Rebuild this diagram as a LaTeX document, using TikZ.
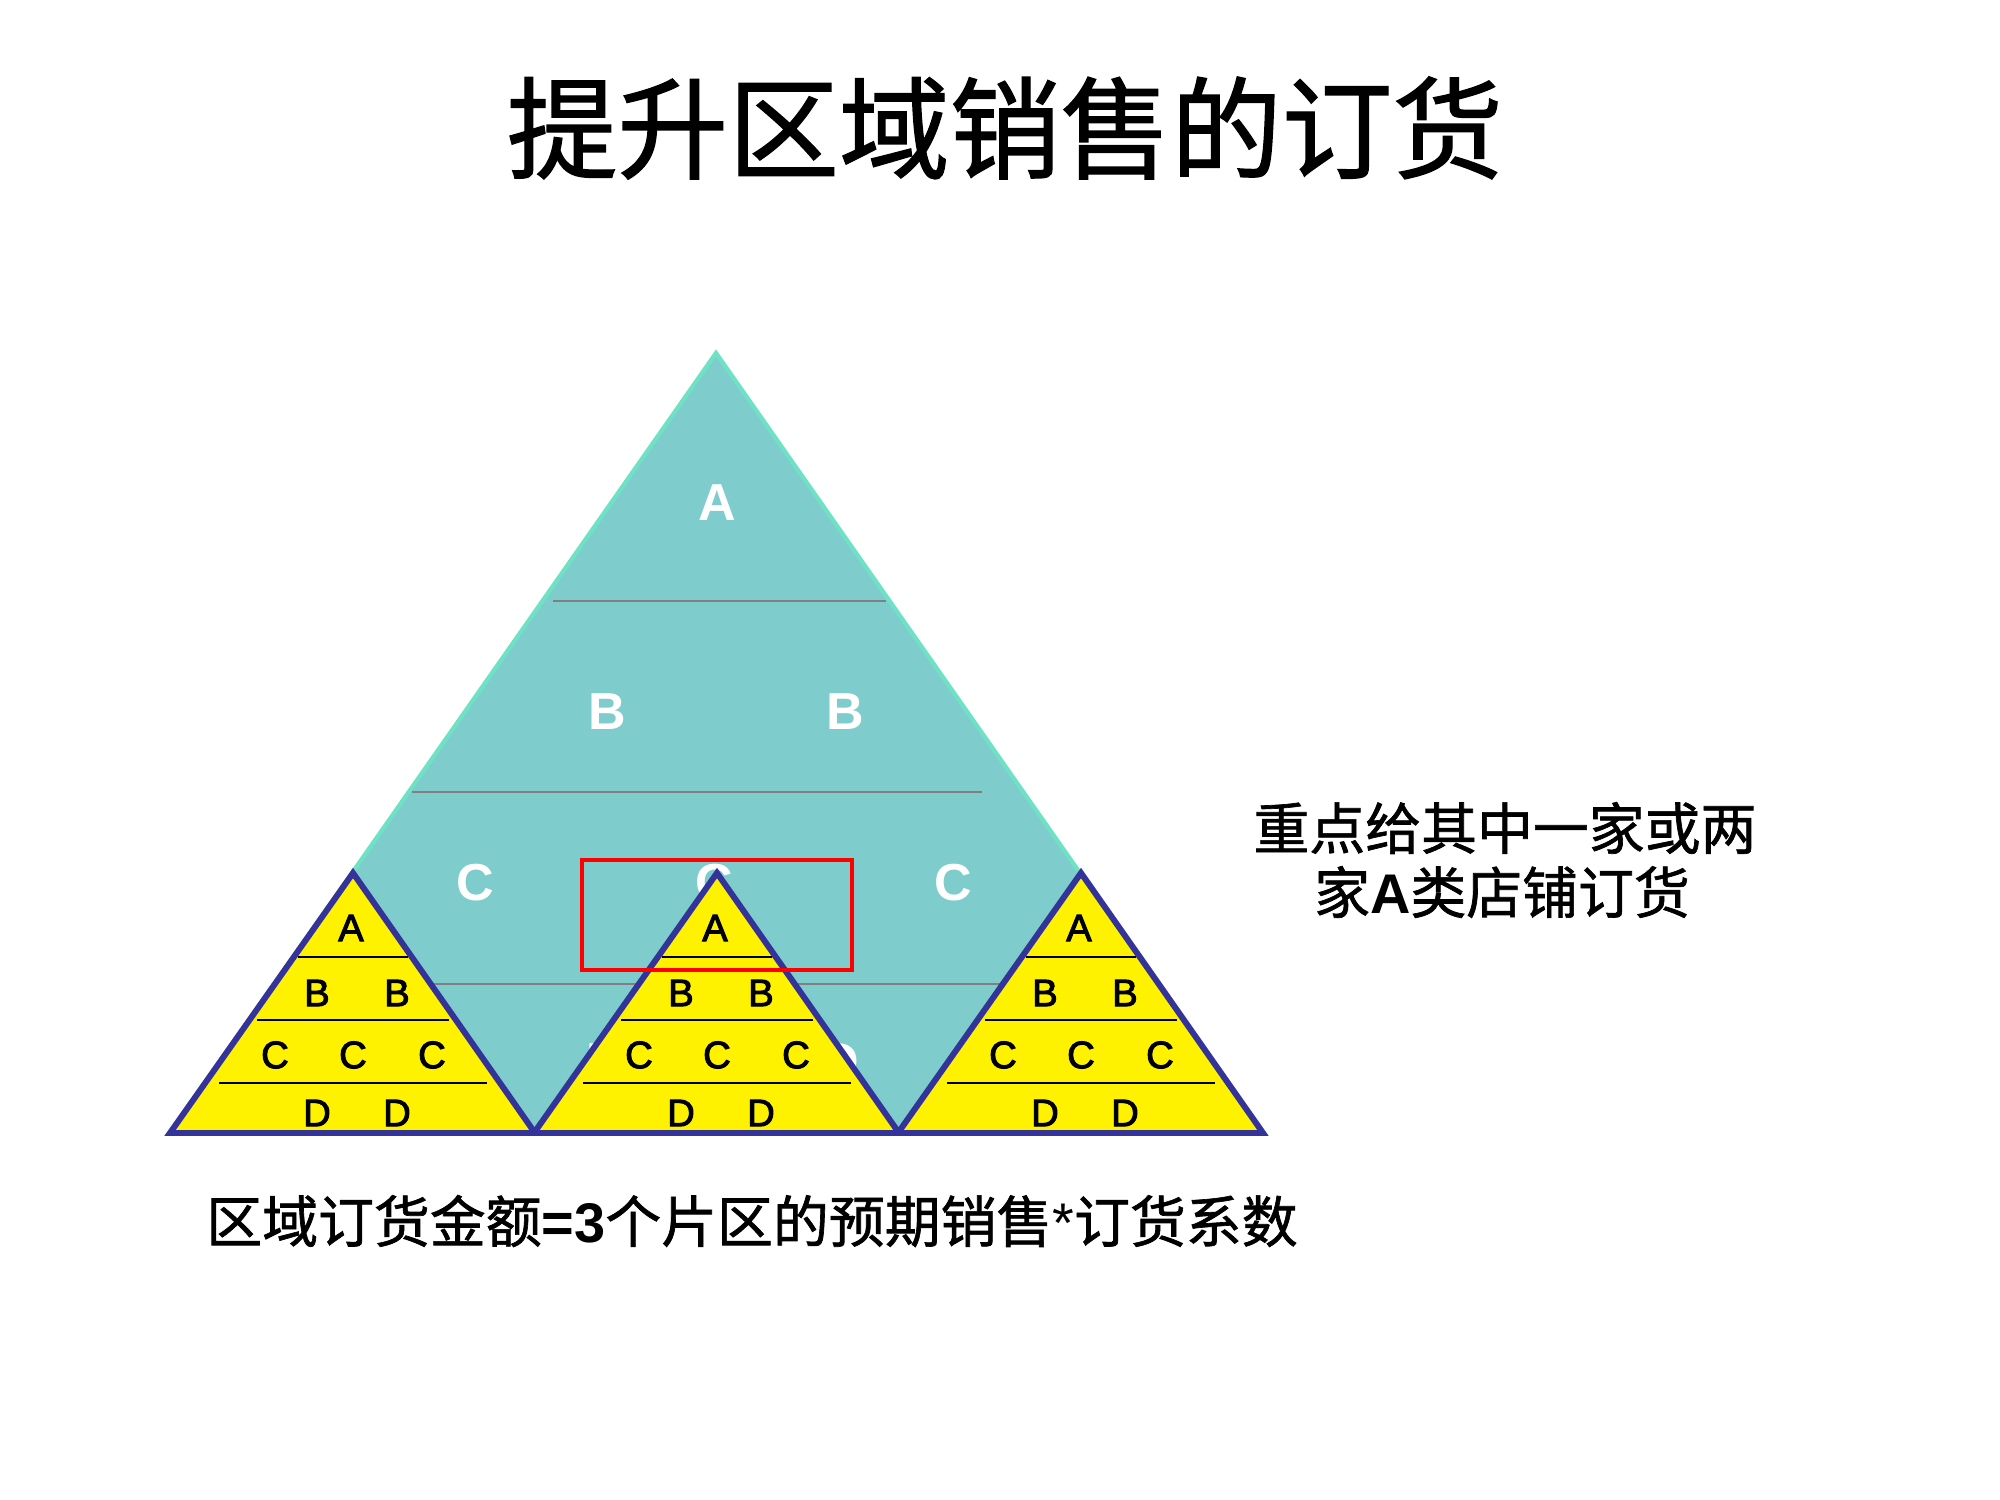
\documentclass[tikz,border=0pt]{standalone}
\usepackage{fontspec}
\setmainfont{Liberation Sans}
\newfontfamily\cjk{Noto Sans CJK SC}
\newfontfamily\cjkheavy[FakeBold=1.2]{Noto Sans CJK SC}
\newfontfamily\medsans[FakeBold=2.5]{Liberation Sans}
\definecolor{tealfill}{HTML}{7FCCCC}
\definecolor{tealedge}{HTML}{6FE2C6}
\definecolor{navyedge}{HTML}{333399}
\definecolor{redbox}{HTML}{FF0000}
\tikzset{
  bigtri/.style={fill=tealfill, draw=tealedge, line width=1.2pt, line join=miter},
  grayline/.style={draw=gray, line width=0.6pt},
  biglab/.style={text=white, font=\fontsize{14.8}{16}\selectfont\bfseries, inner sep=0pt},
  smalltri/.style={fill=yellow, draw=navyedge, line width=1.7pt, line join=miter},
  smallline/.style={draw=black, line width=0.6pt},
  smalllab/.style={text=black, font=\fontsize{10.9}{12}\selectfont\medsans, inner sep=0pt},
  hilite/.style={draw=redbox, line width=1pt},
  titletext/.style={font=\fontsize{31.5}{36}\selectfont\cjkheavy, inner sep=0pt},
  bodytext/.style={font=\fontsize{15.9}{18.2}\selectfont\cjkheavy, inner sep=0pt, align=center}
}
\begin{document}
\begin{tikzpicture}[x=0.1mm, y=-0.1mm]
\useasboundingbox (0,0) rectangle (2000,1500);
% title
\node[titletext] (title) at (1005,128) {提升区域销售的订货};
% big pyramid
\coordinate (T) at (716,353);
\coordinate (BL) at (170,1133);
\coordinate (BR) at (1262,1133);
\path[bigtri] (T) -- (BL) -- (BR) -- cycle;
\coordinate (g1a) at (553,601); \coordinate (g1b) at (886,601);
\coordinate (g2a) at (412,792); \coordinate (g2b) at (982,792);
\coordinate (g3a) at (300,984); \coordinate (g3b) at (1130,984);
\draw[grayline] (g1a) -- (g1b);
\draw[grayline] (g2a) -- (g2b);
\draw[grayline] (g3a) -- (g3b);
\node[biglab] (bA) at (717,503) {A};
\node[biglab] (bB1) at (607,712) {B};
\node[biglab] (bB2) at (845,712) {B};
\node[biglab] (bC1) at (475,883) {C};
\node[biglab] (bC2) at (714,883) {C};
\node[biglab] (bC3) at (953,883) {C};
\node[biglab] (bD1) at (605,1062) {D};
\node[biglab] (bD2) at (840,1062) {D};
% small pyramids
\foreach \cx [count=\i] in {353,717,1081} {
  \coordinate (s\i T) at (\cx,873);
  \coordinate (s\i L) at (\cx-183,1133);
  \coordinate (s\i R) at (\cx+182,1133);
  \path[smalltri] (s\i T) -- (s\i L) -- (s\i R) -- cycle;
  \coordinate (s\i l1a) at (\cx-55,957); \coordinate (s\i l1b) at (\cx+55,957);
  \coordinate (s\i l2a) at (\cx-96,1020); \coordinate (s\i l2b) at (\cx+96,1020);
  \coordinate (s\i l3a) at (\cx-134,1083); \coordinate (s\i l3b) at (\cx+134,1083);
  \draw[smallline] (s\i l1a) -- (s\i l1b);
  \draw[smallline] (s\i l2a) -- (s\i l2b);
  \draw[smallline] (s\i l3a) -- (s\i l3b);
  \node[smalllab] (s\i A) at (\cx-2,928) {A};
  \node[smalllab] (s\i B1) at (\cx-36,993) {B};
  \node[smalllab] (s\i B2) at (\cx+44,993) {B};
  \node[smalllab] (s\i C1) at (\cx-78,1055) {C};
  \node[smalllab] (s\i C2) at (\cx,1055) {C};
  \node[smalllab] (s\i C3) at (\cx+79,1055) {C};
  \node[smalllab] (s\i D1) at (\cx-36,1113) {D};
  \node[smalllab] (s\i D2) at (\cx+44,1113) {D};
}
% red highlight
\coordinate (r1) at (582,860);
\coordinate (r2) at (852,970);
\draw[hilite] (r1) rectangle (r2);
% side note
\node[bodytext] (note1) at (1505,828) {重点给其中一家或两};
\node[bodytext] (note2) at (1502,892) {家{\normalfont\bfseries A}类店铺订货};
% formula
\node[bodytext] (formula) at (752,1221) {区域订货金额{\normalfont\bfseries =3}个片区的预期销售{\normalfont *}订货系数};
\end{tikzpicture}
\end{document}
